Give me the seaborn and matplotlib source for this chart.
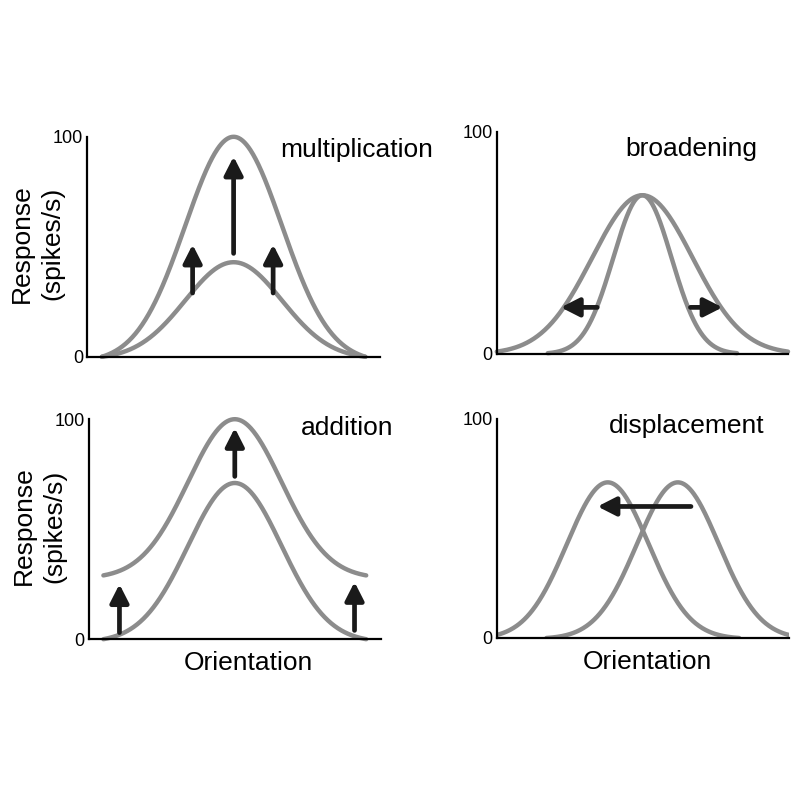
import numpy as np
import pandas as pd
import seaborn as sns
import matplotlib.pyplot as plt

sns.set_style('white')
plt.rcParams['font.family'] = ['Liberation Sans', 'DejaVu Sans']
plt.rcParams['text.color'] = 'black'

# tuning curve parameters (orientation in deg, response in spikes/s)
titles = ['multiplication', 'broadening', 'addition', 'displacement']

mult_amp = [43, 100]
mult_width = [33, 33]

broad_amp = [71.5, 71.5]
broad_width = [20, 34.5]
broad_span = [65, 100]

add_amp = [71, 71]
add_base = [0, 29]
add_width = [32, 32]

disp_amp = [71, 71]
disp_center = [-24, 24]
disp_width = [28, 28]

# arrows: (x_tail, y_tail, x_tip, y_tip)
mult_arrows = [(-28, 29, -28, 51), (0, 47, 0, 91), (27, 29, 27, 51)]
broad_arrows = [(-31, 21, -56, 21), (33, 21, 55, 21)]
add_arrows = [(-79, 3, -79, 25), (0, 74, 0, 96), (82, 4, 82, 26)]
disp_arrows = [(33, 60, -31, 60)]

curve_color = '#8c8c8c'
arrow_color = '#1a1a1a'


def tuning(center, amp, width, base, span, drop_edge=True):
    x = np.linspace(center - span, center + span, 400)
    g = np.exp(-(x - center) ** 2 / (2 * width ** 2))
    if drop_edge:
        edge = np.exp(-span ** 2 / (2 * width ** 2))
        g = (g - edge) / (1 - edge)
    return pd.DataFrame({'orientation': x, 'response': base + amp * g})


curves = [
    [tuning(0, a, w, 0, 90) for a, w in zip(mult_amp, mult_width)],
    [tuning(0, a, w, 0, s, False) for a, w, s in zip(broad_amp, broad_width, broad_span)],
    [tuning(0, a, w, b, 90) for a, w, b in zip(add_amp, add_width, add_base)],
    [tuning(c, a, w, 0, 90) for a, w, c in zip(disp_amp, disp_width, disp_center)],
]
arrows = [mult_arrows, broad_arrows, add_arrows, disp_arrows]
title_pos = [(32, 91), (-12, 89), (45, 93), (-23, 93.5)]

fig = plt.figure(figsize=(8, 8), dpi=100)
rects = [
    [0.109, 0.554, 0.366, 0.275],
    [0.621, 0.5575, 0.364, 0.2775],
    [0.111, 0.201, 0.365, 0.275],
    [0.621, 0.2025, 0.365, 0.274],
]

for i, rect in enumerate(rects):
    ax = fig.add_axes(rect)
    for df in curves[i]:
        sns.lineplot(data=df, x='orientation', y='response', ax=ax,
                     color=curve_color, lw=3.2, clip_on=(i == 3))
    for (x0, y0, x1, y1) in arrows[i]:
        ax.annotate('', xy=(x1, y1), xytext=(x0, y0),
                    arrowprops=dict(arrowstyle='-|>,head_length=0.55,head_width=0.28',
                                    lw=3.4, color=arrow_color, mutation_scale=20,
                                    shrinkA=0, shrinkB=0))
    ax.text(title_pos[i][0], title_pos[i][1], titles[i], fontsize=19,
            ha='left', va='baseline', color='black')

    ax.set_xlim(-100, 100)
    ax.set_ylim(0, 100)
    ax.set_xticks([-50, 0, 50])
    ax.set_xticklabels([])
    ax.set_yticks([0, 100])
    ax.set_yticklabels(['0', '100'], fontsize=13)
    ax.tick_params(axis='both', direction='in', length=2.5, width=1, pad=3,
                   colors='black')
    ax.set_xlabel('')
    ax.set_ylabel('')
    for side in ['top', 'right']:
        ax.spines[side].set_visible(False)
    for side in ['left', 'bottom']:
        ax.spines[side].set_linewidth(1.6)
        ax.spines[side].set_color('black')

    if i in (0, 2):
        ax.text(-0.17, 0.515, 'Response\n(spikes/s)', transform=ax.transAxes,
                rotation=90, ha='center', va='center', fontsize=19,
                linespacing=1.33, color='black')
    if i in (2, 3):
        ax.text(0.545 if i == 2 else 0.515, -0.11, 'Orientation',
                transform=ax.transAxes, ha='center', va='center', fontsize=19,
                color='black')

fig.savefig('out.png', dpi=100)
